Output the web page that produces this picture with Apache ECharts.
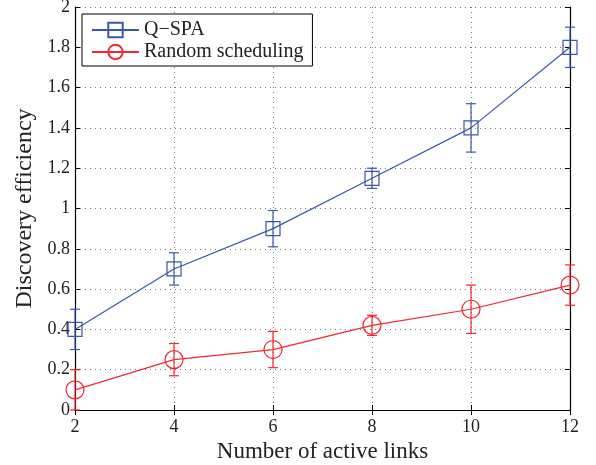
<!DOCTYPE html>
<html>
<head>
<meta charset="utf-8">
<script src="https://cdn.jsdelivr.net/npm/echarts@6/dist/echarts.min.js"></script>
<style>html,body{margin:0;padding:0;background:#fff}#c{width:596px;height:465px}</style>
</head>
<body>
<div id="c"></div>
<script>
const links = [2, 4, 6, 8, 10, 12];
const qspaMean = [0.40, 0.70, 0.90, 1.15, 1.40, 1.80];
const qspaLow  = [0.30, 0.62, 0.81, 1.10, 1.28, 1.70];
const qspaHigh = [0.50, 0.78, 0.99, 1.20, 1.52, 1.90];
const randMean = [0.10, 0.25, 0.30, 0.42, 0.50, 0.62];
const randLow  = [0.00, 0.17, 0.21, 0.37, 0.38, 0.52];
const randHigh = [0.20, 0.33, 0.39, 0.47, 0.62, 0.72];

const BLUE = '#3a58aa';
const RED = '#f0282d';
const FONT = '"Liberation Serif", "Times New Roman", serif';

function errSeries(low, high, color) {
  return {
    type: 'custom',
    z: 3,
    silent: true,
    data: links.map((x, i) => [x, low[i], high[i]]),
    renderItem: function (params, api) {
      const x = api.value(0);
      const lo = api.coord([x, api.value(1)]);
      const hi = api.coord([x, api.value(2)]);
      const w = 5;
      const style = { stroke: color, lineWidth: 1.2, fill: null };
      return {
        type: 'group',
        children: [
          { type: 'line', shape: { x1: lo[0], y1: lo[1], x2: hi[0], y2: hi[1] }, style: style },
          { type: 'line', shape: { x1: lo[0] - w, y1: lo[1], x2: lo[0] + w, y2: lo[1] }, style: style },
          { type: 'line', shape: { x1: hi[0] - w, y1: hi[1], x2: hi[0] + w, y2: hi[1] }, style: style }
        ]
      };
    }
  };
}

const chart = echarts.init(document.getElementById('c'), null, { renderer: 'canvas' });
const axisCommon = {
  axisLine: { show: true, lineStyle: { color: '#000', width: 1.2 } },
  axisTick: { show: true, inside: true, length: 5, lineStyle: { color: '#000' } }
};
chart.setOption({
  animation: false,
  backgroundColor: '#fff',
  textStyle: { fontFamily: FONT },
  grid: { left: 75, right: 26, top: 7, bottom: 55, show: false, containLabel: false, outerBoundsMode: 'none' },
  legend: {
    left: 82, top: 14,
    orient: 'vertical',
    padding: [6, 9, 4, 9],
    itemGap: 2,
    itemWidth: 47,
    itemHeight: 18,
    borderColor: '#000',
    borderWidth: 1,
    backgroundColor: '#fff',
    textStyle: { fontFamily: FONT, fontSize: 20, color: '#222' },
    data: ['Q\u2212SPA', 'Random scheduling']
  },
  xAxis: [{
    type: 'value', min: 2, max: 12, interval: 2,
    name: 'Number of active links', nameLocation: 'middle', nameGap: 24,
    nameTextStyle: { fontFamily: FONT, fontSize: 23, color: '#222' },
    axisLabel: { fontFamily: FONT, fontSize: 18, color: '#222', margin: 8 },
    splitLine: { show: true, lineStyle: { color: '#777', type: [1, 4], width: 1 } },
    ...axisCommon
  }, {
    type: 'value', min: 2, max: 12, interval: 2, position: 'top',
    axisLabel: { show: false }, splitLine: { show: false },
    ...axisCommon
  }],
  yAxis: [{
    type: 'value', min: 0, max: 2, interval: 0.2,
    name: 'Discovery efficiency', nameLocation: 'middle', nameGap: 32,
    nameTextStyle: { fontFamily: FONT, fontSize: 24, color: '#222' },
    axisLabel: { fontFamily: FONT, fontSize: 18, color: '#222', margin: 5 },
    splitLine: { show: true, lineStyle: { color: '#777', type: [1, 4], width: 1 } },
    ...axisCommon
  }, {
    type: 'value', min: 0, max: 2, interval: 0.2, position: 'right',
    axisLabel: { show: false }, splitLine: { show: false },
    ...axisCommon
  }],
  series: [
    {
      name: 'Q\u2212SPA', type: 'line', z: 4,
      data: links.map((x, i) => [x, qspaMean[i]]),
      symbol: 'rect', symbolSize: 14,
      lineStyle: { color: BLUE, width: 1.2 },
      itemStyle: { color: 'rgba(0,0,0,0)', borderColor: BLUE, borderWidth: 1.2 }
    },
    {
      name: 'Random scheduling', type: 'line', z: 4,
      data: links.map((x, i) => [x, randMean[i]]),
      symbol: 'circle', symbolSize: 18,
      lineStyle: { color: RED, width: 1.2 },
      itemStyle: { color: 'rgba(0,0,0,0)', borderColor: RED, borderWidth: 1.2 }
    },
    errSeries(qspaLow, qspaHigh, BLUE),
    errSeries(randLow, randHigh, RED)
  ]
});
</script>
</body>
</html>
